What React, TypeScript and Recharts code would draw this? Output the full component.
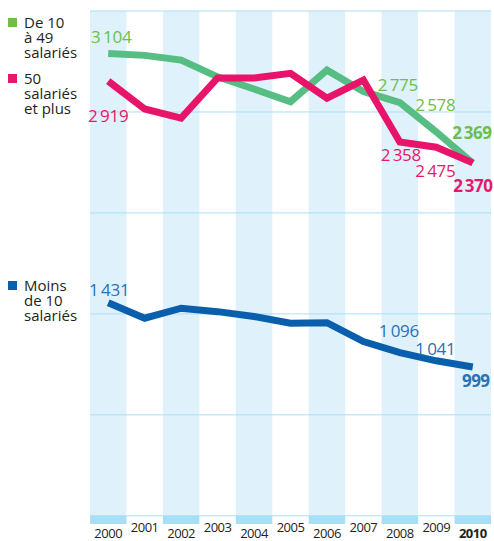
import React from 'react';
import { ComposedChart, Line, XAxis, YAxis, ReferenceArea, ReferenceLine } from 'recharts';

const years = ['2000', '2001', '2002', '2003', '2004', '2005', '2006', '2007', '2008', '2009', '2010'];
const de10a49 = [3104, 3092, 3060, 2948, 2866, 2781, 2993, 2850, 2775, 2578, 2369];
const plus50 = [2919, 2732, 2671, 2940, 2940, 2971, 2805, 2926, 2510, 2475, 2370];
const moins10 = [1431, 1327, 1394, 1371, 1338, 1293, 1297, 1170, 1096, 1041, 999];

const de10a49Labels = ['3\u2009104', null, null, null, null, null, null, null, '2\u2009775', '2\u2009578', '2\u2009369'];
const plus50Labels = ['2\u2009919', null, null, null, null, null, null, null, '2\u2009358', '2\u2009475', '2\u2009370'];
const moins10Labels = ['1\u2009431', null, null, null, null, null, null, null, '1\u2009096', '1\u2009041', '999'];

const gridValues = [0, 678, 1356, 2034, 2712, 3390];
const yMax = 3390;
const stripMin = -55;

const legendItems = [
  { color: '#6cbf4b', lines: ['De 10', 'à 49', 'salariés'] },
  { color: '#e8176b', lines: ['50', 'salariés', 'et plus'] },
  { color: '#0b60ad', lines: ['Moins', 'de 10', 'salariés'] },
];

// label offsets (dx, dy from point to text baseline)
const de10a49Offsets: Array<[number, number] | null> = [[3, -11], null, null, null, null, null, null, null, [-2, -12], [-1, -21], [-1, -24]];
const plus50Offsets: Array<[number, number] | null> = [[0, 41], null, null, null, null, null, null, null, [1, 19], [-1, 30], [0, 29]];
const moins10Offsets: Array<[number, number] | null> = [[1, -7], null, null, null, null, null, null, null, [-1, -16], [-1, -6], [3, 20]];
const legendTops = [28, 84, 291];

const data = years.map((year, i) => ({
  year,
  de10a49: de10a49[i],
  plus50: plus50[i],
  moins10: moins10[i],
}));

const FONT = "'Open Sans', sans-serif";

const makeLabel = (texts: Array<string | null>, offsets: Array<[number, number] | null>, color: string) =>
  (props: any) => {
    const { x, y, index } = props;
    const t = texts[index];
    const off = offsets[index];
    if (!t || !off) return null;
    const bold = index === texts.length - 1;
    return (
      <text
        key={`l-${index}`}
        x={x + off[0]}
        y={y + off[1]}
        textAnchor="middle"
        fill={color}
        fontSize={17}
        fontWeight={bold ? 700 : 400}
        fontFamily={FONT}
        letterSpacing={bold ? -0.5 : -0.3}
      >
        {t}
      </text>
    );
  };

const YearTick = (props: any) => {
  const { x, y, payload, index } = props;
  const even = index % 2 === 0;
  const last = index === years.length - 1;
  return (
    <text
      x={x}
      y={y + (even ? 14 : 8)}
      textAnchor="middle"
      fill="#231f20"
      fontSize={13}
      fontWeight={last ? 700 : 400}
      fontFamily={FONT}
      letterSpacing={-0.5}
    >
      {payload.value}
    </text>
  );
};

export default function App() {
  return (
    <div style={{ position: 'absolute', left: 0, top: 0, width: 494, height: 541, background: '#fff' }}>
      <ComposedChart
        width={494}
        height={541}
        data={data}
        margin={{ top: 11, right: 3, left: 90, bottom: 0 }}
      >
        <XAxis
          dataKey="year"
          scale="band"
          height={17}
          axisLine={false}
          tickLine={false}
          tickSize={0}
          tickMargin={0}
          interval={0}
          tick={<YearTick />}
        />
        <YAxis hide type="number" domain={[stripMin, yMax]} allowDataOverflow />
        {years.map((yr, i) =>
          i % 2 === 0 ? (
            <ReferenceArea key={`b-${yr}`} x1={yr} x2={yr} y1={0} y2={yMax} fill="#dff1fb" fillOpacity={1} stroke="none" />
          ) : null
        )}
        {years.map((yr, i) =>
          i % 2 === 0 ? (
            <ReferenceArea key={`s-${yr}`} x1={yr} x2={yr} y1={stripMin} y2={0} fill="#a8dff7" fillOpacity={1} stroke="none" />
          ) : null
        )}
        {gridValues.map((v) => (
          <ReferenceLine key={`g-${v}`} y={v} stroke="#aadff6" strokeWidth={1} />
        ))}
        <Line
          dataKey="de10a49"
          type="linear"
          stroke="#56bd83"
          strokeWidth={7}
          dot={false}
          isAnimationActive={false}
          label={makeLabel(de10a49Labels, de10a49Offsets, '#6cbf4b')}
        />
        <Line
          dataKey="plus50"
          type="linear"
          stroke="#e8146a"
          strokeWidth={7}
          dot={false}
          isAnimationActive={false}
          label={makeLabel(plus50Labels, plus50Offsets, '#e8176b')}
        />
        <Line
          dataKey="moins10"
          type="linear"
          stroke="#0a5fad"
          strokeWidth={7}
          dot={false}
          isAnimationActive={false}
          label={makeLabel(moins10Labels, moins10Offsets, '#2a71b6')}
        />
      </ComposedChart>
      {legendItems.map((item, k) => (
        <div key={k}>
          <div
            style={{
              position: 'absolute',
              left: 8,
              top: legendTops[k] - 10,
              width: 9,
              height: 9,
              background: item.color,
            }}
          />
          <div
            style={{
              position: 'absolute',
              left: 24,
              top: legendTops[k] - 13.3,
              fontSize: 15,
              lineHeight: '15px',
              color: '#231f20',
              fontFamily: FONT,
              whiteSpace: 'nowrap',
            }}
          >
            {item.lines.map((ln, j) => (
              <div key={j}>{ln}</div>
            ))}
          </div>
        </div>
      ))}
    </div>
  );
}
